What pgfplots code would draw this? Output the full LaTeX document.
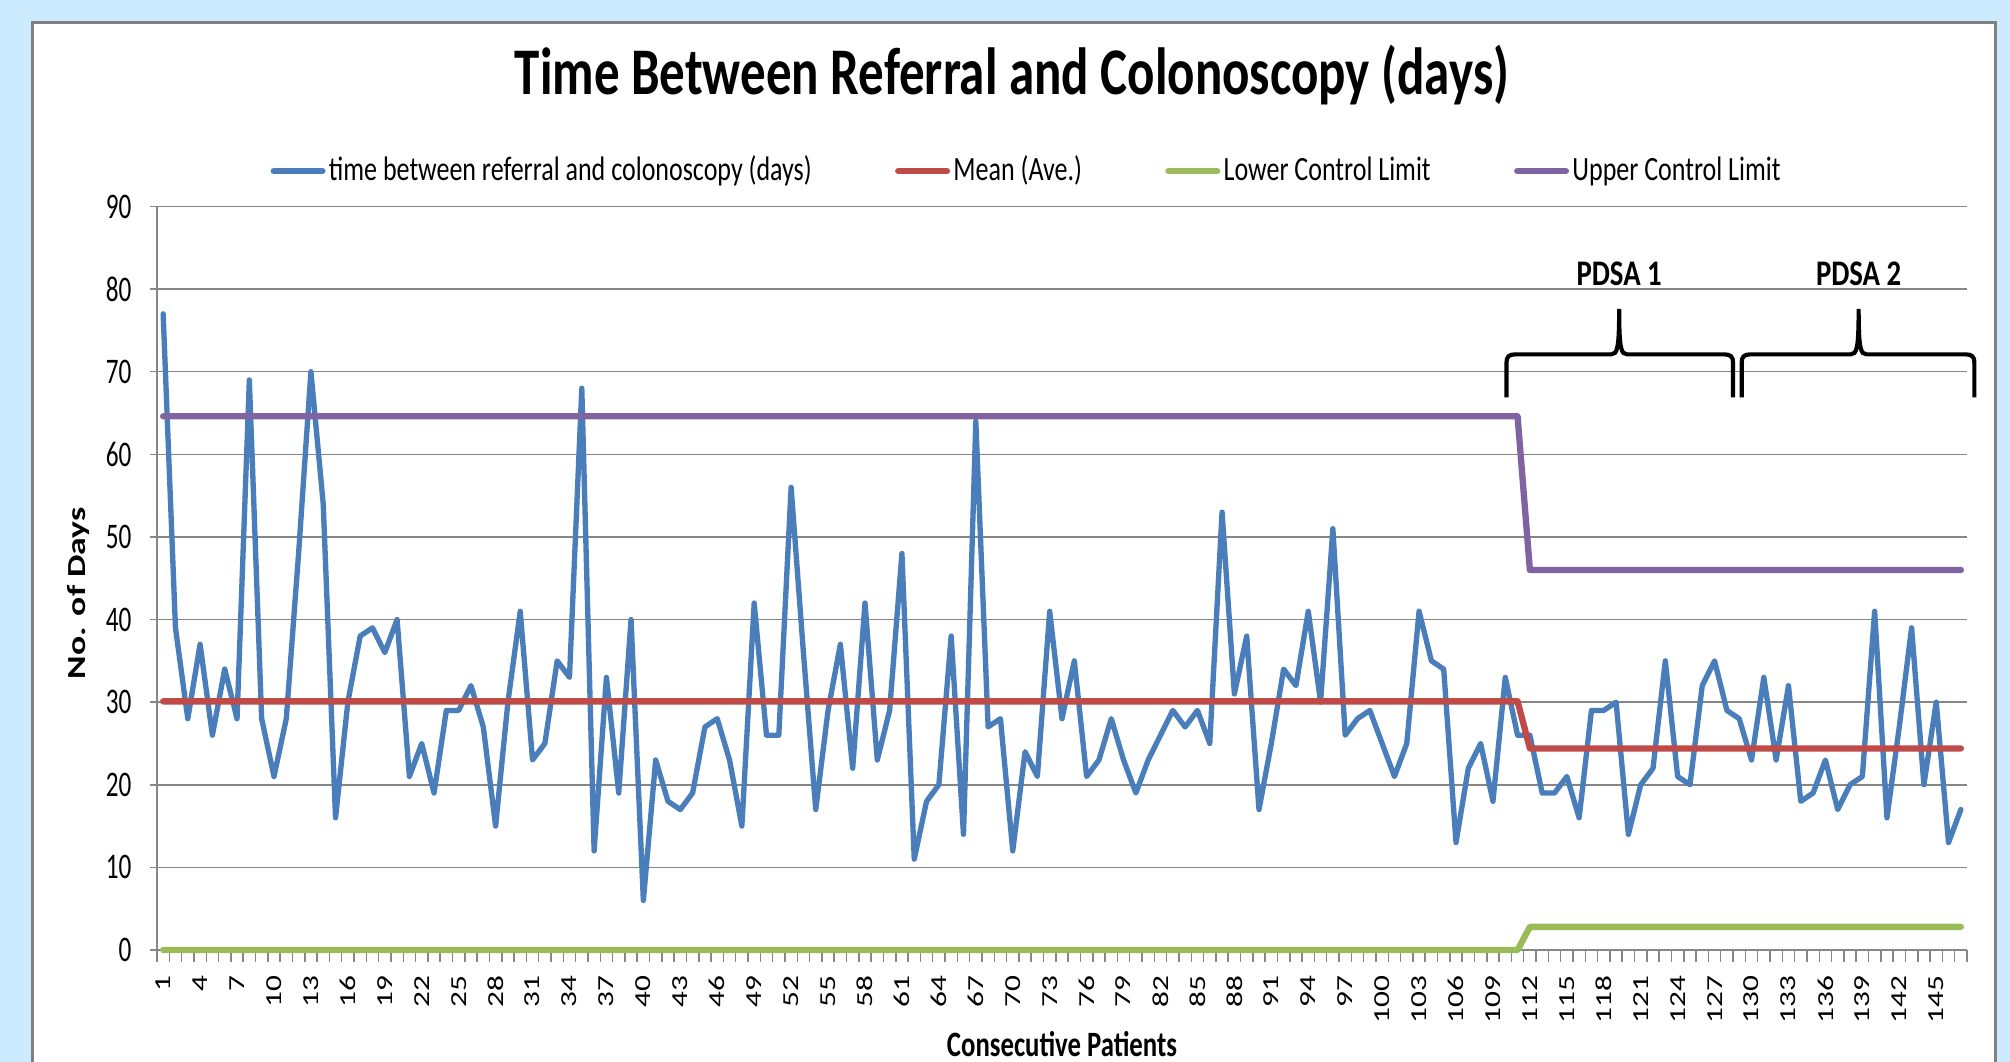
\documentclass[border=0pt]{standalone}
\usepackage{fontspec}
\setmainfont{Carlito}
\usepackage{graphicx}
\usepackage{pgfplots}
\usepackage{pgfplotstable}
\pgfplotsset{compat=1.18}

\definecolor{bgblue}{RGB}{204,235,254}
\definecolor{sblue}{RGB}{74,126,187}
\definecolor{sred}{RGB}{190,75,72}
\definecolor{sgreen}{RGB}{155,187,89}
\definecolor{spurple}{RGB}{128,100,162}
\definecolor{gridgray}{RGB}{134,134,134}
\definecolor{framegray}{RGB}{128,128,128}

\pgfplotstableread{
x y
1 77
2 39
3 28
4 37
5 26
6 34
7 28
8 69
9 28
10 21
11 28
12 48
13 70
14 54
15 16
16 30
17 38
18 39
19 36
20 40
21 21
22 25
23 19
24 29
25 29
26 32
27 27
28 15
29 30
30 41
31 23
32 25
33 35
34 33
35 68
36 12
37 33
38 19
39 40
40 6
41 23
42 18
43 17
44 19
45 27
46 28
47 23
48 15
49 42
50 26
51 26
52 56
53 36
54 17
55 29
56 37
57 22
58 42
59 23
60 29
61 48
62 11
63 18
64 20
65 38
66 14
67 64
68 27
69 28
70 12
71 24
72 21
73 41
74 28
75 35
76 21
77 23
78 28
79 23
80 19
81 23
82 26
83 29
84 27
85 29
86 25
87 53
88 31
89 38
90 17
91 25
92 34
93 32
94 41
95 30
96 51
97 26
98 28
99 29
100 25
101 21
102 25
103 41
104 35
105 34
106 13
107 22
108 25
109 18
110 33
111 26
112 26
113 19
114 19
115 21
116 16
117 29
118 29
119 30
120 14
121 20
122 22
123 35
124 21
125 20
126 32
127 35
128 29
129 28
130 23
131 33
132 23
133 32
134 18
135 19
136 23
137 17
138 20
139 21
140 41
141 16
142 27
143 39
144 20
145 30
146 13
147 17
}\daystable

\begin{document}
\begin{tikzpicture}[x=1pt,y=1pt]
\useasboundingbox (0,0) rectangle (603,318.6);
\clip (0,0) rectangle (603,318.6);
\fill[bgblue] (0,0) rectangle (603,318.6);
\filldraw[fill=white, draw=framegray, line width=0.9pt] (9.8,-10) rectangle (598.5,311.7);
\begin{axis}[
  at={(47.1pt,33.6pt)}, anchor=south west,
  scale only axis, width=543pt, height=223.05pt,
  xmin=0.5, xmax=147.5, ymin=0, ymax=90,
  clip=false,
  axis x line*=bottom, axis y line*=left,
  x axis line style={-, draw=gridgray, line width=0.6pt},
  y axis line style={-, draw=gridgray, line width=0.6pt},
  ytick={0,10,...,90},
  ymajorgrids=true, xmajorgrids=false,
  grid style={gridgray, line width=0.45pt},
  xtick={1,4,...,145},
  minor xtick={0.5,1.5,...,147.5},
  tick align=outside,
  major tick length=2.2pt, minor tick length=3.5pt,
  tick style={gridgray, line width=0.45pt},
  major x tick style={draw=none},
  yticklabel style={font=\fontsize{10.8}{12}\selectfont, inner sep=0pt, anchor=east},
  yticklabel={\scalebox{0.7}[1]{\pgfmathprintnumber[assume math mode=true]{\tick}}},
  yticklabel shift=5.3pt,
  xticklabel style={font=\fontsize{9.4}{11}\selectfont, rotate=90, anchor=east, inner sep=0pt},
  xticklabel={\scalebox{1}[0.73]{\pgfmathprintnumber[assume math mode=true]{\tick}}},
  xticklabel shift=5.3pt,
  title={\scalebox{0.765}[1]{Time Between Referral and Colonoscopy (days)}},
  title style={font=\bfseries\fontsize{20}{24}\selectfont, at={(axis description cs:0.4724,1.1231)}, anchor=base, inner sep=0pt},
  xlabel={\scalebox{0.75}[1]{Consecutive Patients}},
  xlabel style={font=\bfseries\fontsize{10.7}{13}\selectfont, at={(axis description cs:0.5,-0.1426)}, anchor=base, inner sep=0pt},
  ylabel={\scalebox{1}[0.73]{No. of Days}},
  ylabel style={font=\bfseries\fontsize{10.7}{13}\selectfont, at={(axis description cs:-0.0436,0.480)}, anchor=center, inner sep=0pt},
  legend columns=4,
  legend style={draw=none, fill=none, at={(axis description cs:0.0624,1.0477)}, anchor=west, inner sep=0pt,
    font=\fontsize{10.2}{12}\selectfont, cells={anchor=west}, nodes={inner sep=0pt},
    /tikz/every even column/.append style={column sep=25pt},
    /tikz/every odd column/.append style={column sep=1pt}},
  legend image code/.code={\draw[#1, line width=1.9pt, line cap=round] (0pt,0pt) -- (14.6pt,0pt);},
]
\addplot[sblue, line width=1.6pt, line join=round, line cap=round] table[x=x,y=y] {\daystable};
\addlegendentry{\scalebox{0.765}[1]{time between referral and colonoscopy (days)}}
\addplot[sred, line width=1.9pt, line join=round, line cap=round] coordinates {(1,30.1) (111,30.1) (112,24.4) (147,24.4)};
\addlegendentry{\scalebox{0.765}[1]{Mean (Ave.)}}
\addplot[sgreen, line width=1.9pt, line join=round, line cap=round] coordinates {(1,0) (111,0) (112,2.8) (147,2.8)};
\addlegendentry{\scalebox{0.765}[1]{Lower Control Limit}}
\addplot[spurple, line width=1.9pt, line join=round, line cap=round] coordinates {(1,64.6) (111,64.6) (112,46.0) (147,46.0)};
\addlegendentry{\scalebox{0.765}[1]{Upper Control Limit}}

\draw[black, line width=1.25pt] (axis cs:110.1,66.9) -- (axis cs:110.1,71.1)
  .. controls (axis cs:110.1,71.8) and (axis cs:110.3,72.1) .. (axis cs:110.8,72.1)
  -- (axis cs:118.6,72.1)
  .. controls (axis cs:119.1,72.1) and (axis cs:119.25,72.8) .. (axis cs:119.25,77.6)
  .. controls (axis cs:119.25,72.8) and (axis cs:119.4,72.1) .. (axis cs:119.9,72.1)
  -- (axis cs:127.8,72.1)
  .. controls (axis cs:128.3,72.1) and (axis cs:128.5,71.8) .. (axis cs:128.5,71.1)
  -- (axis cs:128.5,66.9);
\draw[black, line width=1.25pt] (axis cs:129.2,66.9) -- (axis cs:129.2,71.1)
  .. controls (axis cs:129.2,71.8) and (axis cs:129.4,72.1) .. (axis cs:129.9,72.1)
  -- (axis cs:138.05,72.1)
  .. controls (axis cs:138.55,72.1) and (axis cs:138.7,72.8) .. (axis cs:138.7,77.6)
  .. controls (axis cs:138.7,72.8) and (axis cs:138.85,72.1) .. (axis cs:139.35,72.1)
  -- (axis cs:147.4,72.1)
  .. controls (axis cs:147.9,72.1) and (axis cs:148.1,71.8) .. (axis cs:148.1,71.1)
  -- (axis cs:148.1,66.9);
\node[font=\bfseries\fontsize{10.8}{13}\selectfont] at (axis cs:119.25,81.9) {\scalebox{0.8}[1]{PDSA 1}};
\node[font=\bfseries\fontsize{10.8}{13}\selectfont] at (axis cs:138.7,81.9) {\scalebox{0.8}[1]{PDSA 2}};
\end{axis}
\end{tikzpicture}
\end{document}
